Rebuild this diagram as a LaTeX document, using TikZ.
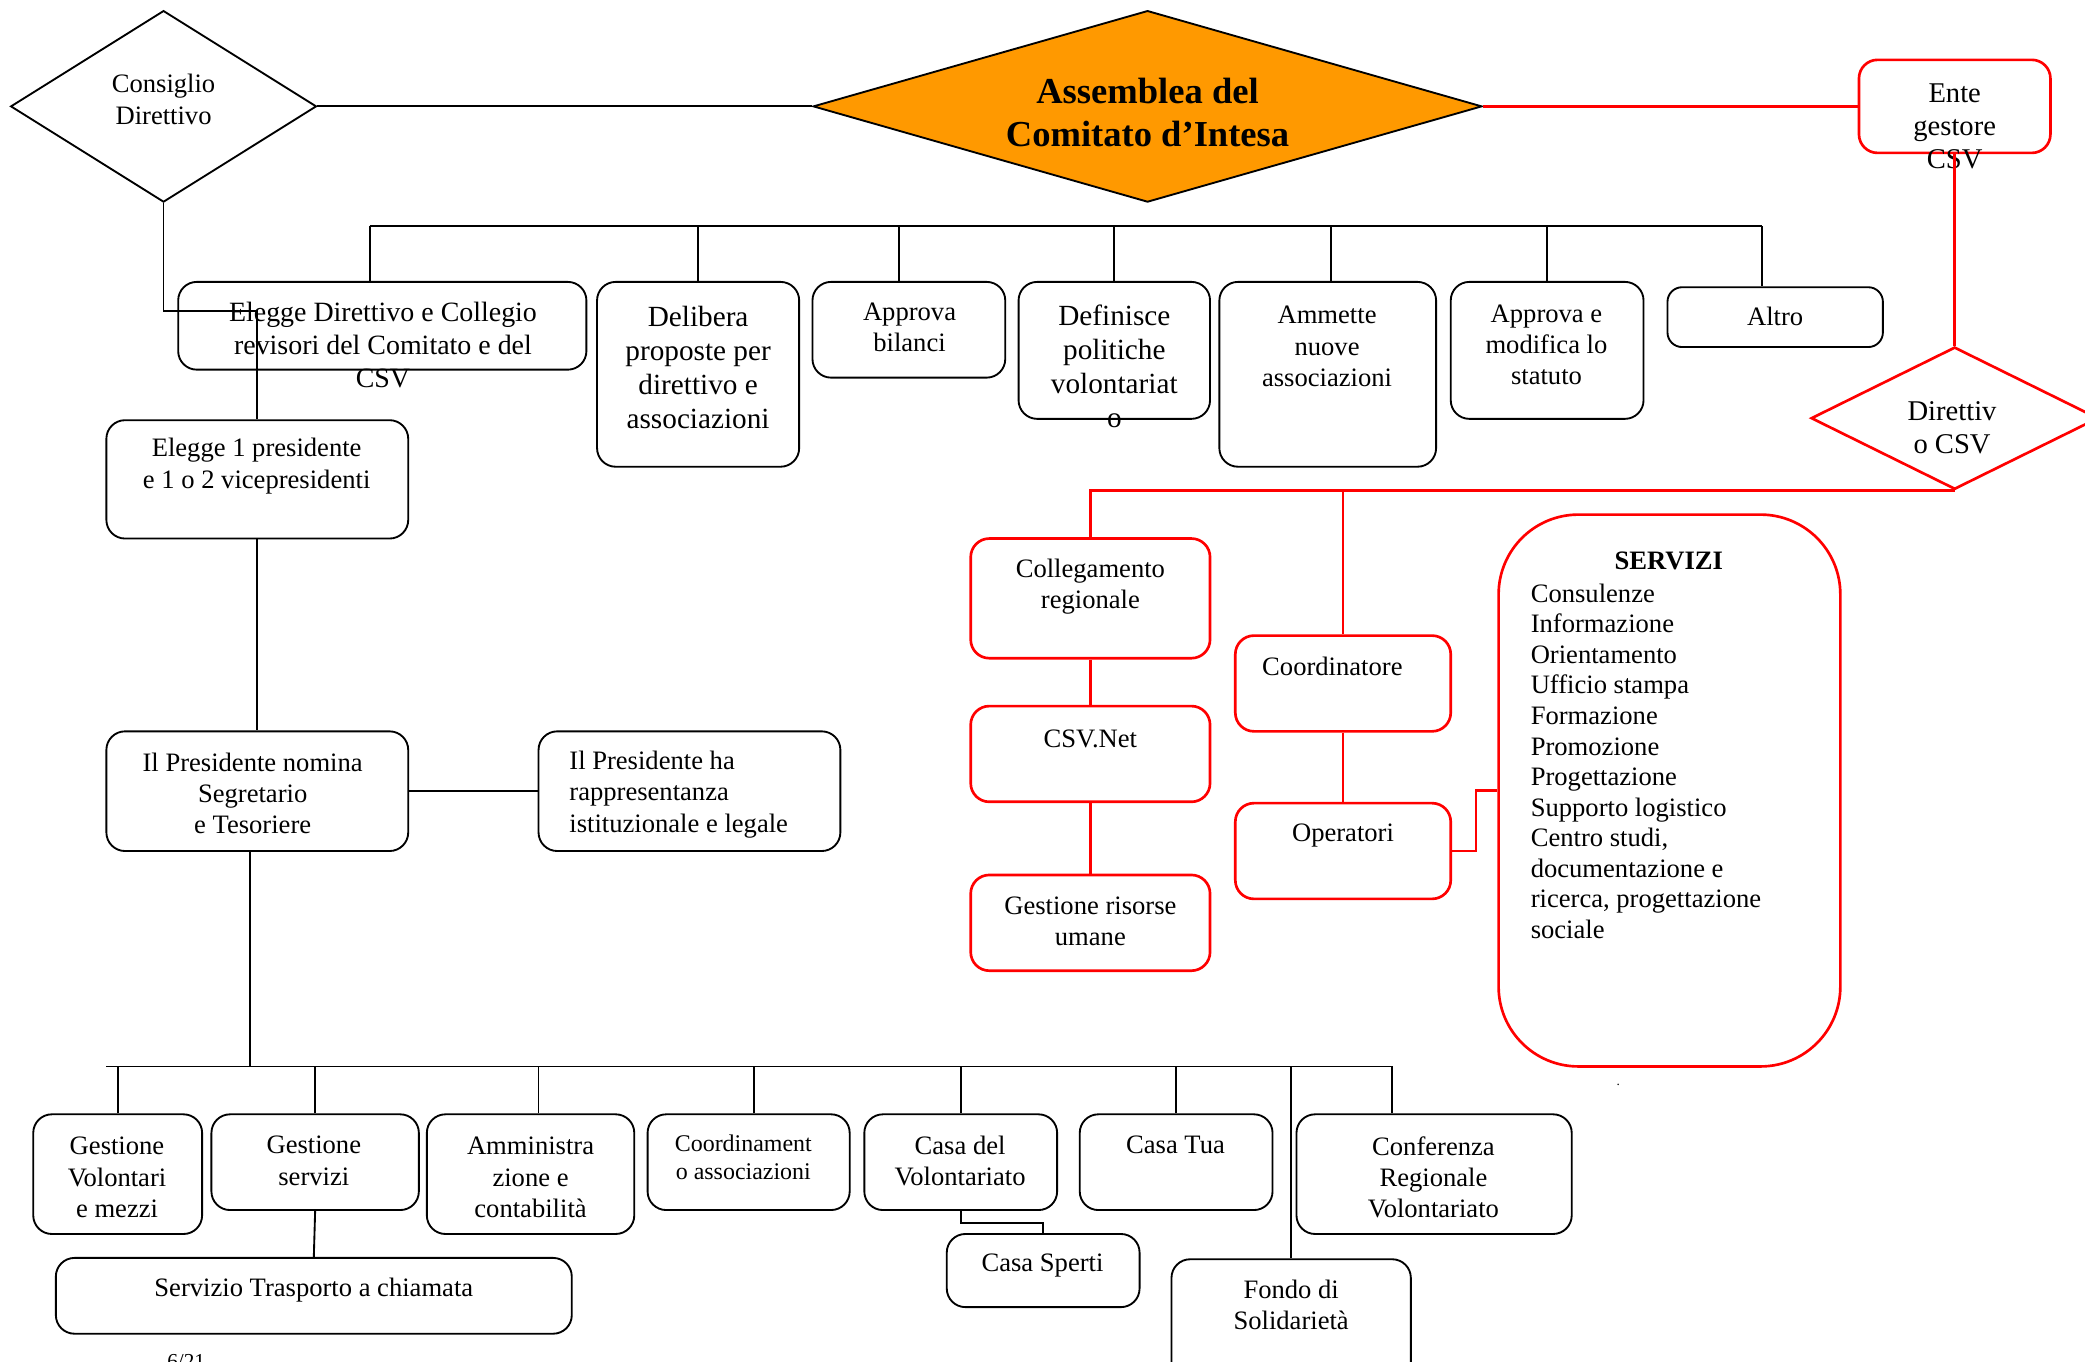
\documentclass[tikz,border=0pt]{standalone}
\usepackage{fontspec}
\setmainfont{Liberation Serif}
\usetikzlibrary{shapes.geometric}

\definecolor{csvred}{RGB}{255,0,0}
\definecolor{assorange}{RGB}{255,153,0}

\tikzset{
    box/.style={draw, line width=1.4pt, rounded corners=14pt, inner sep=0pt},
    redbox/.style={box, draw=csvred, line width=2pt},
    rombo/.style={draw, diamond, inner sep=0pt, line width=1.4pt},
    lbl/.style={align=center, inner sep=0pt, font=\fontsize{20}{23.5}\selectfont},
    conn/.style={line width=1.4pt},
    redconn/.style={draw=csvred, line width=2pt},
}

\begin{document}
\begin{tikzpicture}[x=1pt, y=-1pt]
    \useasboundingbox (0, 0) rectangle (1568, 1024);

    % vertice
    \node[rombo, minimum width=230pt, minimum height=144pt] (consiglio) at (123, 80) {};
    \node[rombo, fill=assorange, minimum width=503pt, minimum height=144pt] (assemblea) at (863, 80) {};
    \node[redbox, minimum width=144pt, minimum height=70pt] (ente) at (1470, 80) {};
    \node[rombo, draw=csvred, line width=2pt, minimum width=216pt, minimum height=107pt] (direttivo) at (1470, 314.5) {};

    \node[lbl, font=\fontsize{20}{24}\selectfont] (consiglio-t) at (123, 74.5) {Consiglio\\Direttivo};
    \node[lbl, font=\fontsize{27.5}{32}\selectfont\bfseries] (assemblea-t) at (863, 84.5) {Assemblea del\\Comitato d’Intesa};
    \node[lbl, font=\fontsize{21.5}{25}\selectfont] (ente-t) at (1470, 95) {Ente\\gestore\\CSV};
    \node[lbl, font=\fontsize{21.5}{25}\selectfont] (direttivo-t) at (1468, 321.5) {Direttiv\\o CSV};

    % compiti dell'assemblea
    \node[box, minimum width=307pt, minimum height=66pt] (elegge) at (287.5, 245) {};
    \node[box, minimum width=152pt, minimum height=139pt] (delibera) at (525, 281.5) {};
    \node[box, minimum width=145pt, minimum height=72pt] (bilanci) at (683.5, 248) {};
    \node[box, minimum width=144pt, minimum height=103pt] (politiche) at (838, 263.5) {};
    \node[box, minimum width=163pt, minimum height=139pt] (ammette) at (998.5, 281.5) {};
    \node[box, minimum width=145pt, minimum height=103pt] (statuto) at (1163.5, 263.5) {};
    \node[box, minimum width=162pt, minimum height=45pt, rounded corners=11pt] (altro) at (1335, 238.5) {};

    \node[lbl, font=\fontsize{21}{24.5}\selectfont] (elegge-t) at (288, 259.5) {Elegge Direttivo e Collegio\\revisori del Comitato e del\\CSV};
    \node[lbl, font=\fontsize{22}{25.5}\selectfont] (delibera-t) at (525, 276.5) {Delibera\\proposte per\\direttivo e\\associazioni};
    \node[lbl] (bilanci-t) at (684, 246) {Approva\\bilanci};
    \node[lbl, font=\fontsize{22}{25.5}\selectfont] (politiche-t) at (838, 275.5) {Definisce\\politiche\\volontariat\\o};
    \node[lbl] (ammette-t) at (998, 260.5) {Ammette\\nuove\\associazioni};
    \node[lbl] (statuto-t) at (1163, 259.5) {Approva e\\modifica lo\\statuto};
    \node[lbl] (altro-t) at (1335, 238) {Altro};

    \coordinate (barL) at (278, 170);
    \coordinate (barR) at (1325, 170);
    \draw[conn] (barL) -- (barR);
    \draw[conn] (barL) -- (barL |- elegge.north);
    \draw[conn] (delibera.north) -- (delibera.north |- barL);
    \draw[conn] ([xshift=-7.5pt]bilanci.north) -- ([xshift=-7.5pt]bilanci.north |- barL);
    \draw[conn] (politiche.north) -- (politiche.north |- barL);
    \draw[conn] ([xshift=2.5pt]ammette.north) -- ([xshift=2.5pt]ammette.north |- barL);
    \draw[conn] (statuto.north) -- (statuto.north |- barL);
    \draw[conn] (barR) -- (barR |- altro.north);
    \draw[conn] (consiglio.east) -- (assemblea.west);

    % presidenza
    \node[box, minimum width=227pt, minimum height=89pt] (eleggepres) at (193.5, 360.5) {};
    \node[box, minimum width=227pt, minimum height=90pt] (nomina) at (193.5, 595) {};
    \node[box, minimum width=227pt, minimum height=90pt] (rappr) at (518.5, 595) {};

    \node[lbl] (eleggepres-t) at (193, 350.5) {Elegge 1 presidente\\e 1 o 2 vicepresidenti};
    \node[lbl] (nomina-t) at (190, 596.5) {Il Presidente nomina\\Segretario\\e Tesoriere};
    \node[lbl, align=left, anchor=west] (rappr-t) at (428, 597.5) {Il Presidente ha\\rappresentanza\\istituzionale e legale};

    \draw[conn] (consiglio.south) -- ++(0, 81) -| (eleggepres.north);
    \draw[conn] (eleggepres.south) -- (nomina.north);
    \draw[conn] (nomina.east) -- (rappr.west);

    % settori operativi
    \node[box, minimum width=127pt, minimum height=90pt] (volontari) at (88.5, 883) {};
    \node[box, minimum width=156pt, minimum height=72pt] (gservizi) at (237, 874) {};
    \node[box, minimum width=156pt, minimum height=90pt] (amministrazione) at (399, 883) {};
    \node[box, minimum width=152pt, minimum height=72pt] (coordass) at (563, 874) {};
    \node[box, minimum width=145pt, minimum height=72pt] (casavol) at (722.5, 874) {};
    \node[box, minimum width=145pt, minimum height=72pt] (casatua) at (884.5, 874) {};
    \node[box, minimum width=207pt, minimum height=90pt] (conferenza) at (1078.5, 883) {};
    \node[box, minimum width=388pt, minimum height=57pt] (trasporto) at (236, 974.5) {};
    \node[box, minimum width=145pt, minimum height=55pt] (sperti) at (784.5, 955.5) {};
    \node[box, minimum width=180pt, minimum height=100pt] (fondo) at (971, 997) {};

    \node[lbl] (volontari-t) at (88, 885.5) {Gestione\\Volontari\\e mezzi};
    \node[lbl] (gservizi-t) at (236, 873) {Gestione\\servizi};
    \node[lbl] (amministrazione-t) at (399, 885.5) {Amministra\\zione e\\contabilità};
    \node[lbl, font=\fontsize{18}{21}\selectfont] (coordass-t) at (559, 870.5) {Coordinament\\o associazioni};
    \node[lbl] (casavol-t) at (722, 873) {Casa del\\Volontariato};
    \node[lbl] (casatua-t) at (884, 861) {Casa Tua};
    \node[lbl] (conferenza-t) at (1078, 885.5) {Conferenza\\Regionale\\Volontariato};
    \node[lbl] (trasporto-t) at (236, 970) {Servizio Trasporto a chiamata};
    \node[lbl] (sperti-t) at (784, 952) {Casa Sperti};
    \node[lbl] (fondo-t) at (971, 981.5) {Fondo di\\Solidarietà};

    \coordinate (botL) at (80, 802);
    \coordinate (botR) at (1047, 802);
    \draw[conn] (botL) -- (botR);
    \draw[conn] ([xshift=-5.5pt]nomina.south) -- ([xshift=-5.5pt]nomina.south |- botL);
    \draw[conn] (volontari.north) -- (volontari.north |- botL);
    \draw[conn] (gservizi.north) -- (gservizi.north |- botL);
    \draw[conn] ([xshift=6pt]amministrazione.north) -- ([xshift=6pt]amministrazione.north |- botL);
    \draw[conn] ([xshift=4pt]coordass.north) -- ([xshift=4pt]coordass.north |- botL);
    \draw[conn] (casavol.north) -- (casavol.north |- botL);
    \draw[conn] (casatua.north) -- (casatua.north |- botL);
    \draw[conn] (fondo.north) -- (fondo.north |- botL);
    \draw[conn] (botR) -- (botR |- conferenza.north);
    \draw[conn] (gservizi.south) -- (trasporto.north);
    \draw[conn] (casavol.south) -- ++(0, 9) -| (sperti.north);

    % centro servizi
    \node[redbox, minimum width=180pt, minimum height=90pt] (collegamento) at (820, 450) {};
    \node[redbox, minimum width=180pt, minimum height=72pt] (csvnet) at (820, 567) {};
    \node[redbox, minimum width=180pt, minimum height=72pt] (risorse) at (820, 694) {};
    \node[redbox, minimum width=162pt, minimum height=72pt] (coordinatore) at (1010, 514) {};
    \node[redbox, minimum width=162pt, minimum height=72pt] (operatori) at (1010, 640) {};
    \node[redbox, minimum width=257pt, minimum height=415pt, rounded corners=60pt] (elenco) at (1255.5, 594.5) {};

    \node[lbl] (collegamento-t) at (820, 441) {Collegamento\\regionale};
    \node[lbl] (csvnet-t) at (820, 556) {CSV.Net};
    \node[lbl] (risorse-t) at (820, 693) {Gestione risorse\\umane};
    \node[lbl] (coordinatore-t) at (1002, 501.5) {Coordinatore};
    \node[lbl] (operatori-t) at (1010, 628) {Operatori};
    \node[lbl, font=\fontsize{20}{23}\selectfont\bfseries] (elenco-h) at (1255, 422) {SERVIZI};
    \node[lbl, align=left, anchor=west, font=\fontsize{20}{23}\selectfont] (elenco-t) at (1151, 572.5) {Consulenze\\Informazione\\Orientamento\\Ufficio stampa\\Formazione\\Promozione\\Progettazione\\Supporto logistico\\Centro studi,\\documentazione e\\ricerca, progettazione\\sociale};

    \draw[redconn] (assemblea.east) -- (ente.west);
    \draw[redconn] (ente.south) -- (direttivo.north);
    \draw[redconn] (direttivo.south) -| (collegamento.north);
    \draw[redconn] (coordinatore.north) -- (coordinatore.north |- direttivo.south);
    \draw[redconn] (collegamento.south) -- (csvnet.north);
    \draw[redconn] (csvnet.south) -- (risorse.north);
    \draw[redconn] (coordinatore.south) -- (operatori.north);
    \draw[redconn] (operatori.east) -- ++(18, 0) |- (elenco.west);

    \node[lbl, font=\fontsize{10}{12}\selectfont] (punto) at (1217, 816) {.};
    \node[lbl, anchor=north, font=\fontsize{16}{19}\selectfont] (pagina) at (140, 1018) {6/21};

\end{tikzpicture}
\end{document}
